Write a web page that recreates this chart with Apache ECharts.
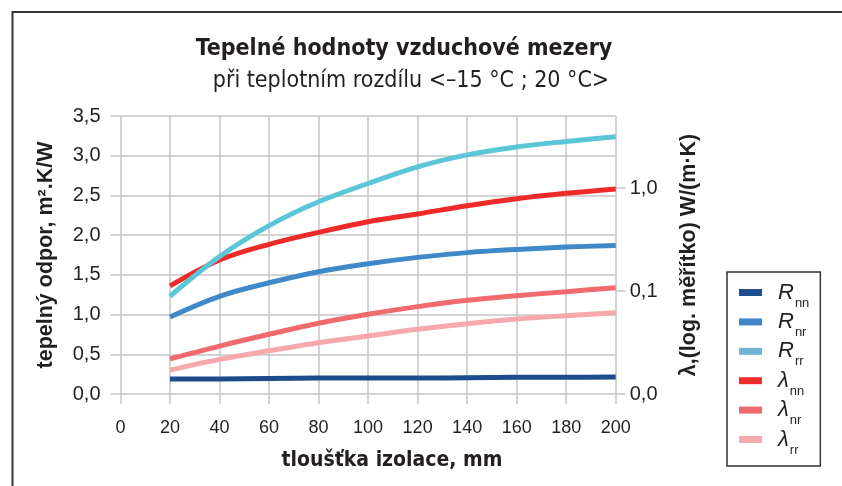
<!DOCTYPE html>
<html>
<head>
<meta charset="utf-8">
<script src="https://cdn.jsdelivr.net/npm/echarts@6/dist/echarts.min.js"></script>
<style>
  html, body { margin: 0; padding: 0; background: #fff; }
  #chart { width: 842px; height: 486px; }
</style>
</head>
<body>
<div id="chart"></div>
<script>
// tloušťka izolace, mm
const thickness = [20, 40, 60, 80, 100, 120, 140, 160, 180, 200];
// tepelný odpor R, m2.K/W (levá osa)
const R_nn = [0.19, 0.19, 0.195, 0.2, 0.2, 0.2, 0.205, 0.21, 0.21, 0.215];
const R_nr = [0.97, 1.23, 1.40, 1.54, 1.64, 1.72, 1.78, 1.82, 1.85, 1.87];
const R_rr = [1.23, 1.73, 2.12, 2.42, 2.65, 2.86, 3.01, 3.11, 3.18, 3.24];
// lambda, W/(m.K) (pravá osa, log.)
const lam_nn = [0.112, 0.200, 0.284, 0.371, 0.471, 0.560, 0.673, 0.787, 0.888, 0.978];
const lam_nr = [0.0219, 0.0292, 0.0380, 0.0486, 0.0594, 0.0705, 0.0812, 0.0901, 0.0985, 0.1077];
const lam_rr = [0.0171, 0.0217, 0.0263, 0.0315, 0.0366, 0.0425, 0.0482, 0.0535, 0.0576, 0.0615];
const rightTicks = [0.01, 0.1, 1];

const narrow = "'DejaVu Sans Condensed', 'Liberation Sans Narrow', sans-serif";
const arial = "'Liberation Sans', Arial, sans-serif";
const gridColor = '#c6c6c6';

function pairs(vals) {
  return thickness.map((x, i) => [x, vals[i]]);
}

function line(name, vals, axis, lineColor, legendColor) {
  return {
    name: name,
    type: 'line',
    yAxisIndex: axis,
    data: pairs(vals),
    smooth: 0.35,
    showSymbol: false,
    lineStyle: { color: lineColor, width: 5 },
    itemStyle: { color: legendColor },
    emphasis: { disabled: true }
  };
}

const chart = echarts.init(document.getElementById('chart'));
chart.setOption({
  animation: false,
  backgroundColor: '#fff',
  graphic: [
    {
      type: 'polyline',
      shape: { points: [[12.5, 486], [12.5, 12], [842, 12]] },
      style: { stroke: '#333', lineWidth: 2, fill: null }
    },
    {
      type: 'text', x: 404, y: 49,
      style: {
        text: 'Tepelné hodnoty vzduchové mezery',
        font: 'bold 23px ' + narrow, fill: '#231f20',
        textAlign: 'center', textVerticalAlign: 'middle'
      }
    },
    {
      type: 'text', x: 411, y: 81,
      style: {
        text: 'při teplotním rozdílu <–15 °C ; 20 °C>',
        font: '23px ' + narrow, fill: '#231f20',
        textAlign: 'center', textVerticalAlign: 'middle'
      }
    },
    {
      // název osy x, posunutý doprava jako v předloze
      type: 'text', x: 392, y: 461,
      style: {
        text: 'tloušťka izolace, mm',
        font: 'bold 21px ' + narrow, fill: '#231f20',
        textAlign: 'center', textVerticalAlign: 'middle'
      }
    }
  ],
  grid: { left: 120.5, right: 226.3, top: 116, bottom: 92 },
  legend: {
    orient: 'vertical',
    left: 727,
    top: 272,
    padding: [9.5, 11, 9.5, 12],
    itemGap: 1.4,
    itemWidth: 23,
    itemHeight: 7,
    icon: 'rect',
    borderColor: '#333',
    borderWidth: 1.5,
    backgroundColor: '#fff',
    data: ['R_nn', 'R_nr', 'R_rr', 'λ_nn', 'λ_nr', 'λ_rr'],
    formatter: function (name) {
      const p = name.split('_');
      return '{b|' + p[0] + '}{s|' + p[1] + '}';
    },
    textStyle: {
      rich: {
        b: { fontSize: 22, lineHeight: 22, fontStyle: 'italic', fontFamily: arial, color: '#231f20', verticalAlign: 'top', padding: [0, 0, 0, 11] },
        s: { fontSize: 13, lineHeight: 13, fontFamily: arial, color: '#231f20', verticalAlign: 'top', padding: [15, 0, 0, 1] }
      }
    }
  },
  xAxis: {
    type: 'value',
    min: 0,
    max: 200,
    interval: 20,
    axisLine: { show: false },
    axisTick: { show: true, length: 10, lineStyle: { color: gridColor, width: 1.5 } },
    axisLabel: { margin: 25, fontFamily: arial, fontSize: 18, color: '#231f20' },
    splitLine: { show: true, lineStyle: { color: gridColor, width: 1.5 } }
  },
  yAxis: [
    {
      type: 'value',
      min: 0,
      max: 3.5,
      interval: 0.5,
      name: 'tepelný odpor, m².K/W',
      nameLocation: 'middle',
      nameGap: 63,
      nameTextStyle: { fontFamily: arial, fontWeight: 'bold', fontSize: 21.5, color: '#231f20' },
      axisLine: { show: false },
      axisTick: { show: true, length: 10, lineStyle: { color: gridColor, width: 1.5 } },
      axisLabel: {
        margin: 20, fontFamily: arial, fontSize: 20, color: '#231f20',
        formatter: v => v.toFixed(1).replace('.', ',')
      },
      splitLine: { show: true, lineStyle: { color: gridColor, width: 1.5 } }
    },
    {
      type: 'log',
      logBase: 10,
      min: 0.01,
      max: 5,
      position: 'right',
      name: 'λ,(log. měřítko) W/(m·K)',
      nameLocation: 'middle',
      nameGap: 62,
      nameTextStyle: { fontFamily: arial, fontWeight: 'bold', fontSize: 21.5, color: '#231f20' },
      axisLine: { show: false },
      axisTick: { show: true, length: 10, customValues: rightTicks, lineStyle: { color: gridColor, width: 1.5 } },
      axisLabel: {
        margin: 14, fontFamily: arial, fontSize: 20, color: '#231f20',
        customValues: rightTicks,
        formatter: v => (rightTicks.some(t => Math.abs(t - v) < 1e-9) ? v.toFixed(1).replace('.', ',') : '')
      },
      splitLine: { show: false }
    }
  ],
  series: [
    line('λ_rr', lam_rr, 1, '#f6a8ab', '#f5a9ab'),
    line('λ_nr', lam_nr, 1, '#f06a6e', '#ef6a6c'),
    line('λ_nn', lam_nn, 1, '#ee2b29', '#ee2d2b'),
    line('R_nn', R_nn, 0, '#1c4c8c', '#1c4e8f'),
    line('R_nr', R_nr, 0, '#3f89c9', '#3f86c6'),
    line('R_rr', R_rr, 0, '#5bc6d8', '#70b4d3')
  ]
});
</script>
</body>
</html>
